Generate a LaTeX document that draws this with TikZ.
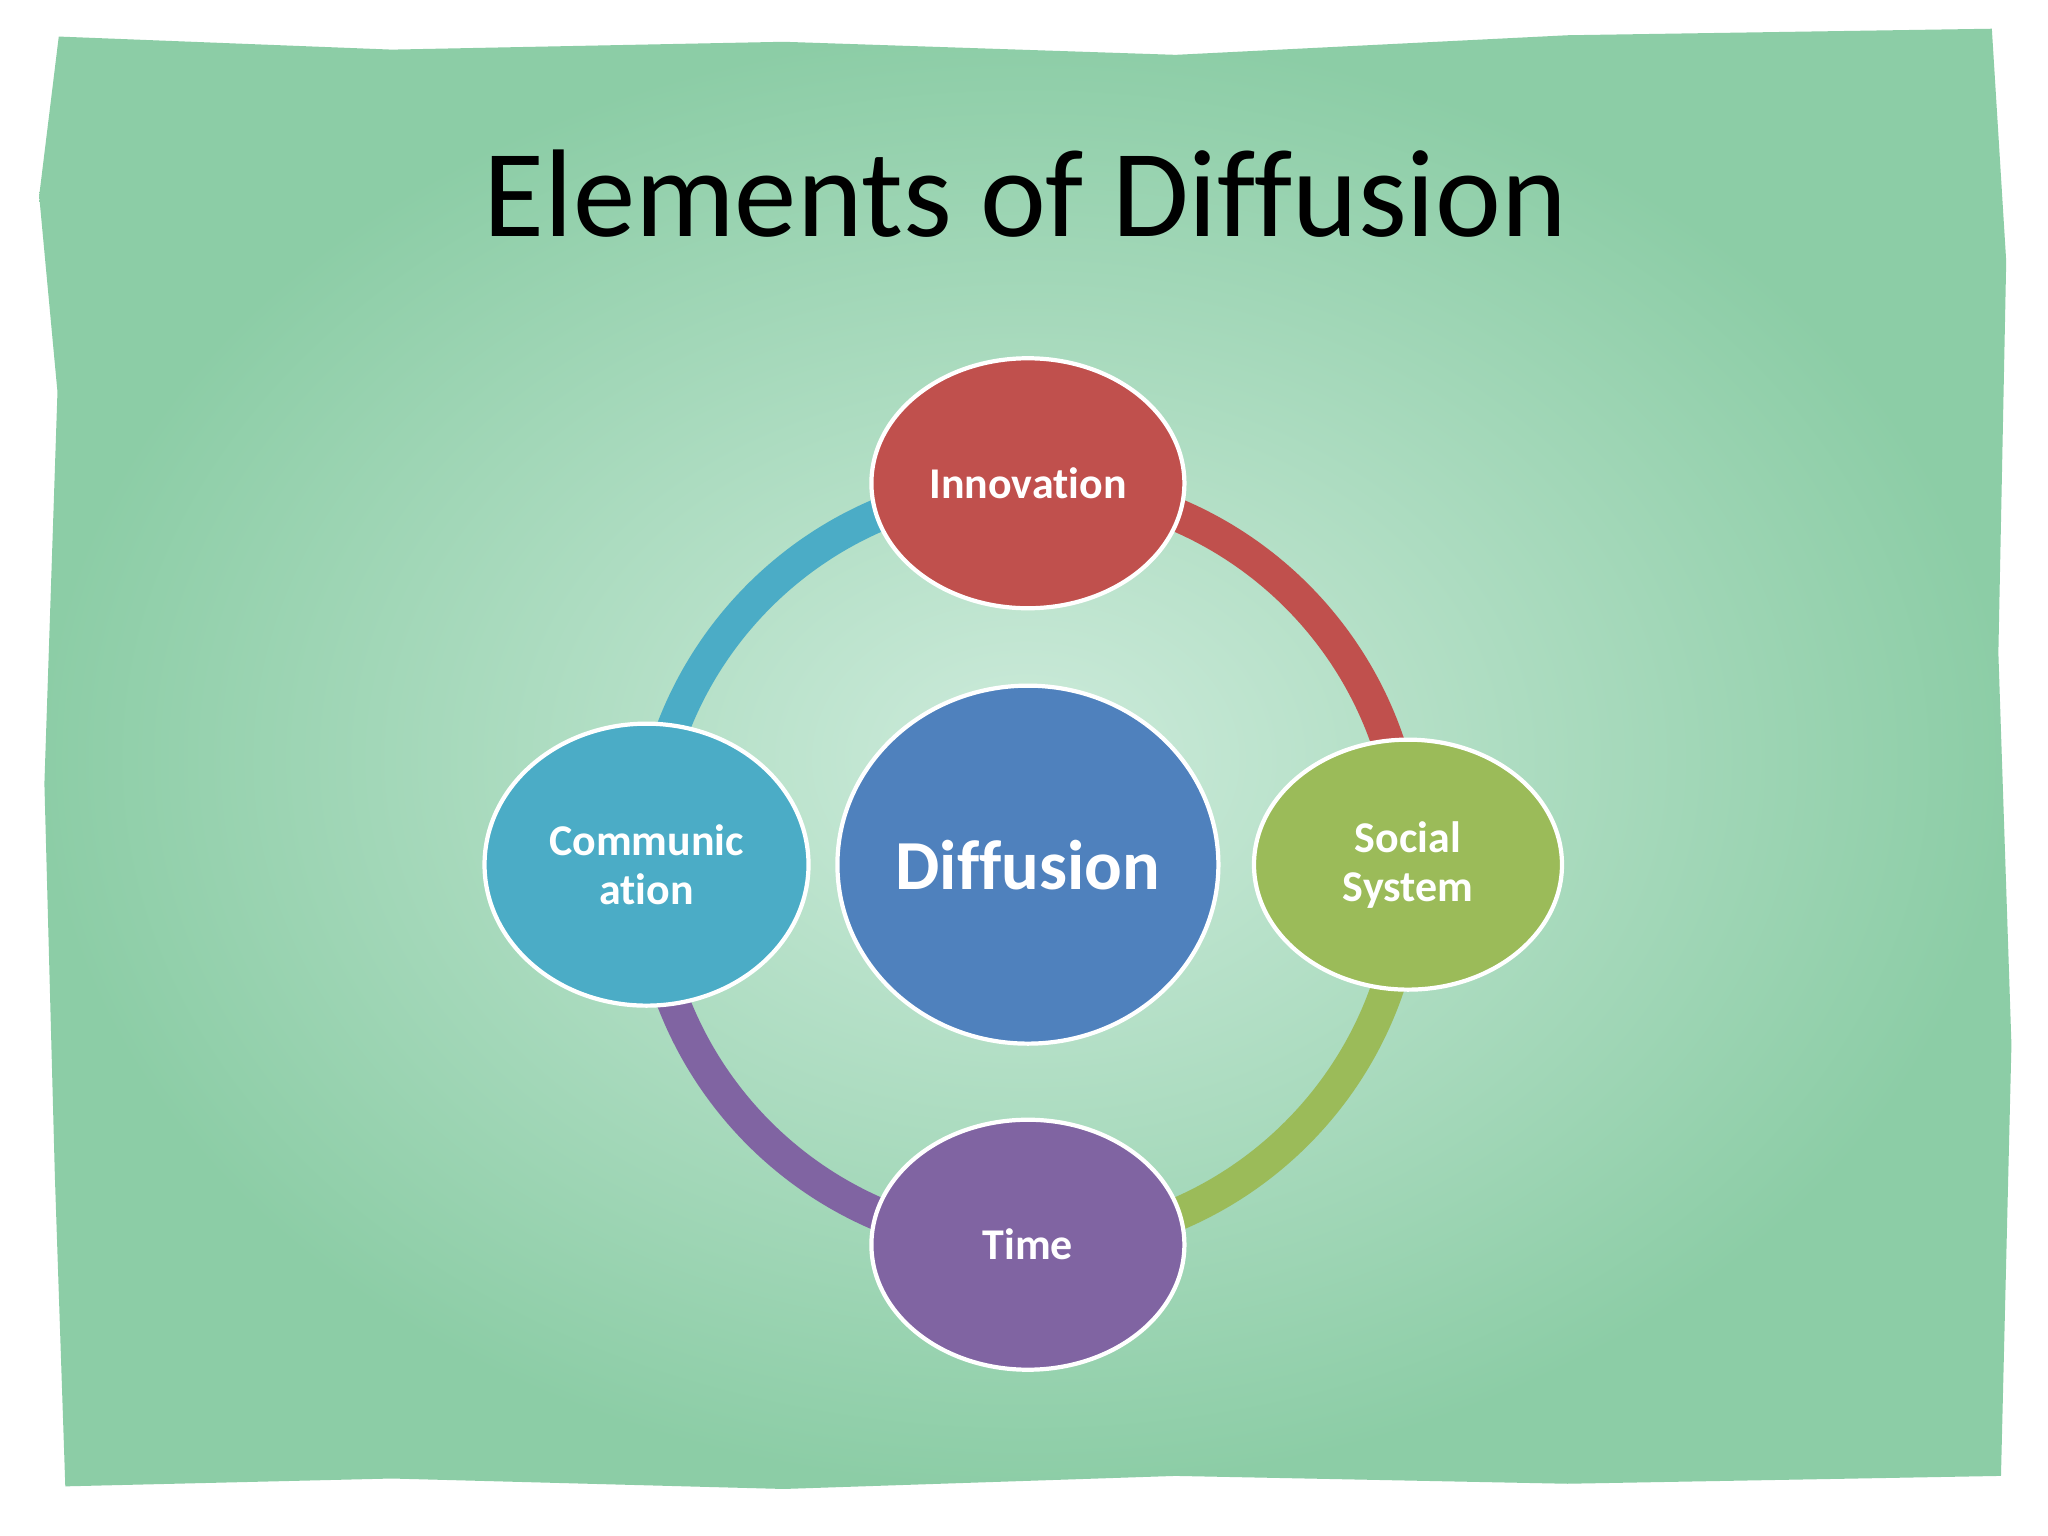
\documentclass[tikz,border=0pt]{standalone}
\usepackage{fontspec}
\setmainfont[Ligatures=NoCommon]{Carlito}
\usetikzlibrary{shapes.geometric}
\definecolor{bgG}{HTML}{8CCDA6}
\definecolor{bgL}{HTML}{CDEBDB}
\definecolor{cRed}{HTML}{C0504D}
\definecolor{cGreen}{HTML}{9BBB59}
\definecolor{cPurple}{HTML}{8064A2}
\definecolor{cBlue}{HTML}{4BACC6}
\definecolor{cDark}{HTML}{4F81BD}
\begin{document}
\begin{tikzpicture}[x=0.013061cm,y=-0.013061cm,
  elem/.style={ellipse,draw=white,line width=1.2pt,text=white,font=\bfseries\fontsize{12.5}{14}\selectfont,align=center,inner sep=0pt},
  ringarc/.style={line width=0.33cm}]
\useasboundingbox (0,0) rectangle (1568,1176);
\fill[white] (0,0) rectangle (1568,1176);
\path[inner color=bgL,outer color=bgG,draw=none]
  (45,28) -- (300,38) -- (600,32) -- (900,42) -- (1200,27) -- (1525,22) -- (1536,200) -- (1530,500) -- (1540,800) -- (1532,1130)
  -- (1200,1136) -- (900,1130) -- (600,1140) -- (300,1132) -- (50,1138) -- (42,900) -- (34,600) -- (44,300) -- (30,150) -- cycle;
\node[font=\fontsize{35.5}{40}\selectfont] (title) at (785,148) {Elements of Diffusion};
\coordinate (c) at (787,662);
\draw[ringarc,cRed] ([shift={(270:291)}]c) arc[start angle=270,end angle=360,radius=291];
\draw[ringarc,cGreen] ([shift={(0:291)}]c) arc[start angle=0,end angle=90,radius=291];
\draw[ringarc,cPurple] ([shift={(90:291)}]c) arc[start angle=90,end angle=180,radius=291];
\draw[ringarc,cBlue] ([shift={(180:291)}]c) arc[start angle=180,end angle=270,radius=291];
\node[elem,fill=cRed,minimum width=3.13cm,minimum height=2.5cm] (inno) at (787,370) {Innovation};
\node[elem,fill=cGreen,minimum width=3.08cm,minimum height=2.5cm] (soc) at (1078,662) {Social\\System};
\node[elem,fill=cPurple,minimum width=3.13cm,minimum height=2.5cm] (time) at (787,953) {Time};
\node[elem,fill=cBlue,minimum width=3.24cm,minimum height=2.82cm] (comm) at (495,662) {Communic\\ation};
\node[elem,fill=cDark,minimum width=3.81cm,minimum height=3.58cm,font=\bfseries\fontsize{20}{24}\selectfont] (diff) at (787,662) {Diffusion};
\end{tikzpicture}
\end{document}
